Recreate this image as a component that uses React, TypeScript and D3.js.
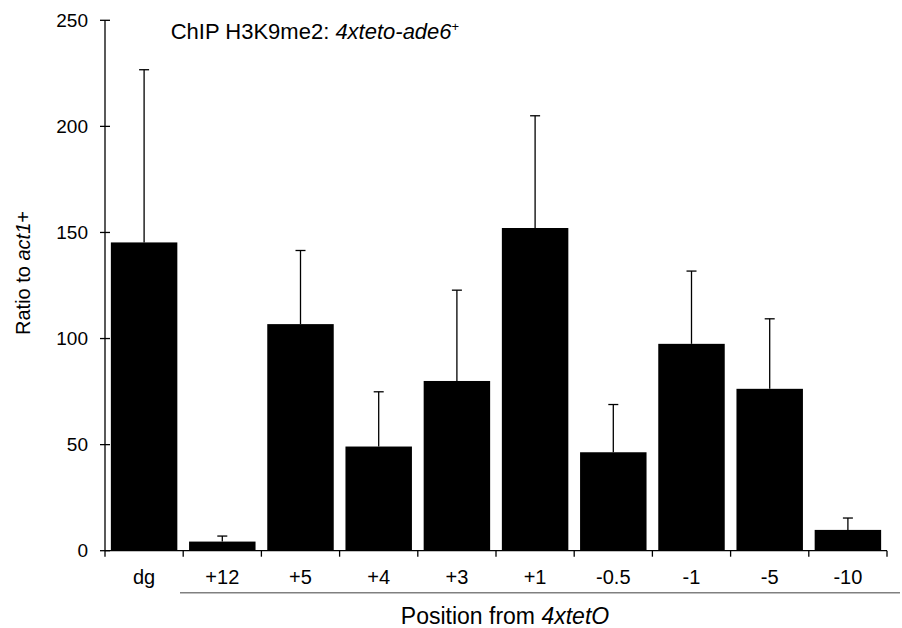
import React from "react";
import * as d3 from "d3";

const categories = ["dg", "+12", "+5", "+4", "+3", "+1", "-0.5", "-1", "-5", "-10"];
const values = [145.3, 4.3, 106.8, 49.1, 80.0, 152.1, 46.4, 97.5, 76.3, 9.8];
const errors = [81.4, 2.6, 34.7, 25.8, 42.8, 52.9, 22.5, 34.3, 33.0, 5.6];
const yTicks = [0, 50, 100, 150, 200, 250];

const W = 902;
const H = 628;
const margin = { left: 105, right: 15, top: 20.3, bottom: 77.3 };
const FONT = "'Liberation Sans', Arial, Helvetica, sans-serif";

export default function App() {
  const x = d3
    .scaleBand<string>()
    .domain(categories)
    .range([margin.left, W - margin.right])
    .paddingInner(0.15)
    .paddingOuter(0.075);
  const xOuter = d3
    .scaleBand<string>()
    .domain(categories)
    .range([margin.left, W - margin.right]);
  const y = d3.scaleLinear().domain([0, 250]).range([H - margin.bottom, margin.top]);
  const y0 = y(0);
  const bounds = categories.map((c) => xOuter(c) as number).concat([W - margin.right]);

  return (
    <svg width={W} height={H} style={{ position: "absolute", left: 0, top: 0, background: "#fff" }} fontFamily={FONT}>
      <rect x={0} y={0} width={W} height={H} fill="#fff" />
      {/* bars */}
      {categories.map((c, i) => (
        <rect key={c} x={x(c)} y={y(values[i])} width={x.bandwidth()} height={y0 - y(values[i])} fill="#000" />
      ))}
      {/* error bars */}
      {categories.map((c, i) => {
        const cx = (x(c) as number) + x.bandwidth() / 2;
        return (
          <g key={"e" + c} stroke="#000" strokeWidth={1.3}>
            <line x1={cx} x2={cx} y1={y(values[i])} y2={y(values[i] + errors[i])} />
            <line x1={cx - 5} x2={cx + 5} y1={y(values[i] + errors[i])} y2={y(values[i] + errors[i])} />
          </g>
        );
      })}
      {/* y axis */}
      <line x1={margin.left} x2={margin.left} y1={y(250)} y2={y0} stroke="#000" strokeWidth={1.3} />
      {yTicks.map((t) => (
        <g key={t}>
          <line x1={margin.left - 5} x2={margin.left + 5} y1={y(t)} y2={y(t)} stroke="#000" strokeWidth={1.3} />
          <text x={88} y={y(t)} dy="0.35em" textAnchor="end" fontSize={19}>
            {t}
          </text>
        </g>
      ))}
      {/* x axis */}
      <line x1={margin.left} x2={W - margin.right} y1={y0} y2={y0} stroke="#000" strokeWidth={1.3} />
      {bounds.map((b, i) => (
        <line key={"t" + i} x1={b} x2={b} y1={y0} y2={y0 + 6} stroke="#000" strokeWidth={1.3} />
      ))}
      {categories.map((c) => (
        <text key={"l" + c} x={(xOuter(c) as number) + xOuter.bandwidth() / 2} y={584} textAnchor="middle" fontSize={20}>
          {c}
        </text>
      ))}
      <line x1={180} x2={900} y1={592.7} y2={592.7} stroke="#808080" strokeWidth={1.5} />
      <text x={505} y={624} textAnchor="middle" fontSize={23}>
        Position from <tspan fontStyle="italic">4xtetO</tspan>
      </text>
      {/* y title */}
      <text transform={`translate(30,273) rotate(-90)`} textAnchor="middle" fontSize={20}>
        Ratio to <tspan fontStyle="italic">act1</tspan>+
      </text>
      {/* title */}
      <text x={170.7} y={39.3} fontSize={22}>
        ChIP H3K9me2: <tspan fontStyle="italic">4xteto-ade6</tspan>
        <tspan fontSize={13} dy={-8}>+</tspan>
      </text>
    </svg>
  );
}
